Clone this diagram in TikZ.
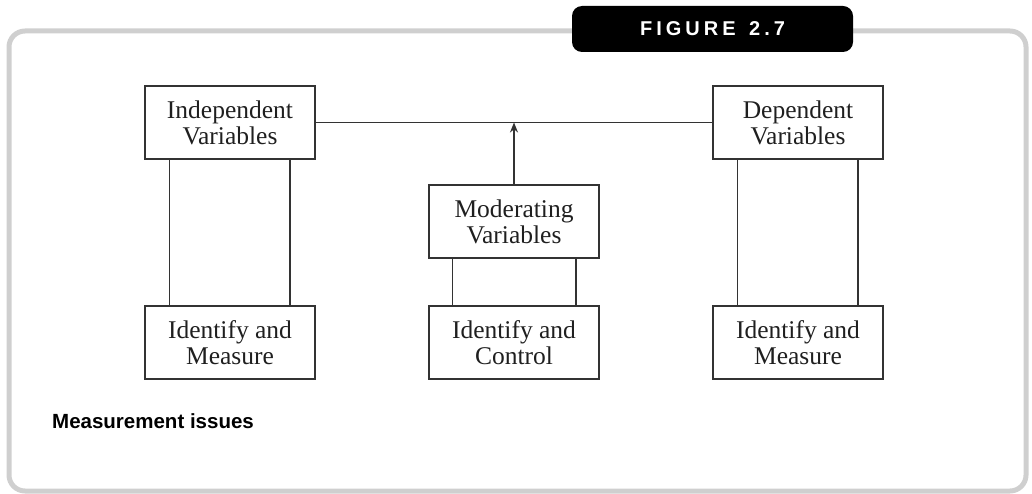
\documentclass[tikz,border=0pt]{standalone}
\usepackage{fontspec}
\setmainfont{Liberation Serif}
\newfontfamily\labelfont{Liberation Sans}
\usetikzlibrary{calc,arrows.meta}
\definecolor{framegray}{HTML}{CFCFCF}
\definecolor{linec}{HTML}{333333}
\tikzset{
  box/.style={draw=linec, line width=1.5pt, minimum width=170pt, minimum height=73pt,
    inner sep=0pt, align=center, font=\fontsize{25.5}{26}\selectfont, text=black!88},
  conn/.style={draw=linec, line width=1.5pt},
}
\begin{document}
\begin{tikzpicture}[x=1pt,y=-1pt]
\useasboundingbox (0,0) rectangle (1032,494);
% frame
\draw[framegray, line width=5pt, rounded corners=16pt] (9,31) rectangle (1026,491);
% tab
\node[fill=black, rounded corners=10pt, minimum width=281pt, minimum height=46pt, inner sep=0pt,
  text=white, font=\labelfont\bfseries\fontsize{20}{22}\selectfont\addfontfeatures{LetterSpace=20}]
  (tab) at (712.5,29) {FIGURE\hspace{4pt} 2.7};
% boxes
\node[box] (ind) at (230,122.5) {Independent\\Variables};
\node[box] (dep) at (798,122.5) {Dependent\\Variables};
\node[box] (mod) at (514,221.5) {Moderating\\Variables};
\node[box] (im1) at (230,342.5) {Identify and\\Measure};
\node[box] (ic)  at (514,342.5) {Identify and\\Control};
\node[box] (im2) at (798,342.5) {Identify and\\Measure};
% connectors
\draw[conn] (ind.east) -- (dep.west);
\coordinate (meet) at (mod.north |- ind.east);
\draw[conn, -{Stealth[length=10pt,width=8pt]}] (mod.north) -- (meet);
\draw[conn] ($(ind.south west)+(25,0)$) -- ($(im1.north west)+(25,0)$);
\draw[conn] ($(ind.south east)+(-26,0)$) -- ($(im1.north east)+(-26,0)$);
\draw[conn] ($(dep.south west)+(25,0)$) -- ($(im2.north west)+(25,0)$);
\draw[conn] ($(dep.south east)+(-26,0)$) -- ($(im2.north east)+(-26,0)$);
\draw[conn] ($(mod.south west)+(24,0)$) -- ($(ic.north west)+(24,0)$);
\draw[conn] ($(mod.south east)+(-24,0)$) -- ($(ic.north east)+(-24,0)$);
% caption
\node[anchor=base west, inner sep=0pt, font=\labelfont\bfseries\fontsize{20.5}{22}\selectfont] (cap) at (52,428) {Measurement issues};
\end{tikzpicture}
\end{document}
